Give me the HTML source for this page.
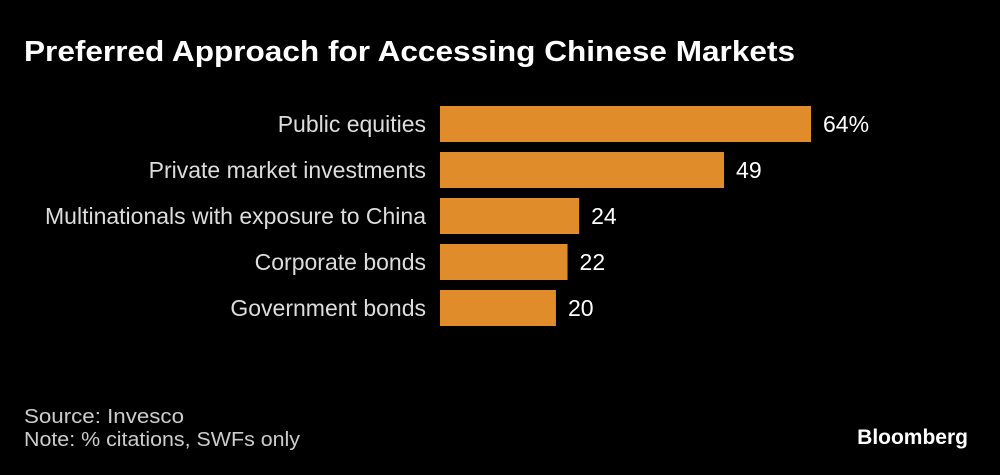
<!DOCTYPE html>
<html><head><meta charset="utf-8"><style>
body{margin:0;background:#000;width:1000px;height:470px;overflow:hidden;font-family:"Liberation Sans",sans-serif;color:#fff}
</style></head><body>
<svg width="1000" height="470" xmlns="http://www.w3.org/2000/svg">
<text x="24" y="61" font-size="29" font-weight="bold" fill="#fff" textLength="771" lengthAdjust="spacingAndGlyphs">Preferred Approach for Accessing Chinese Markets</text>
<g id="bars"></g>
<text x="24" y="423" font-size="20" fill="#ccc" textLength="160" lengthAdjust="spacingAndGlyphs">Source: Invesco</text>
<text x="24" y="446" font-size="20" fill="#ccc" textLength="276" lengthAdjust="spacingAndGlyphs">Note: % citations, SWFs only</text>
<text x="968" y="444" font-size="21" font-weight="bold" fill="#fff" text-anchor="end">Bloomberg</text>
</svg>
<script>
const categories=["Public equities","Private market investments","Multinationals with exposure to China","Corporate bonds","Government bonds"];
const values=[64,49,24,22,20];
const valueLabels=["64%","49","24","22","20"];
const x0=440,scale=(811-440)/64,top0=106,pitch=46,bh=36;
const xs=v=>x0+v*scale, ys=i=>top0+i*pitch;
const g=document.getElementById('bars'),NS="http://www.w3.org/2000/svg";
categories.forEach((c,i)=>{
 const r=document.createElementNS(NS,'rect');
 r.setAttribute('x',x0);r.setAttribute('y',ys(i));r.setAttribute('width',xs(values[i])-x0);r.setAttribute('height',bh);r.setAttribute('fill','#e08c2a');
 
 
 g.appendChild(r);
 const t=document.createElementNS(NS,'text');
 t.setAttribute('x',426);t.setAttribute('y',ys(i)+bh/2+8);t.setAttribute('text-anchor','end');t.setAttribute('font-size','23');t.setAttribute('fill','#ddd');
 t.textContent=c;
 
 
 g.appendChild(t);
 const v=document.createElementNS(NS,'text');
 v.setAttribute('x',xs(values[i])+12);v.setAttribute('y',ys(i)+bh/2+8);v.setAttribute('font-size','23');v.setAttribute('fill','#fff');
 v.textContent=valueLabels[i];
 
 
 g.appendChild(v);
});
</script>
</body></html>
